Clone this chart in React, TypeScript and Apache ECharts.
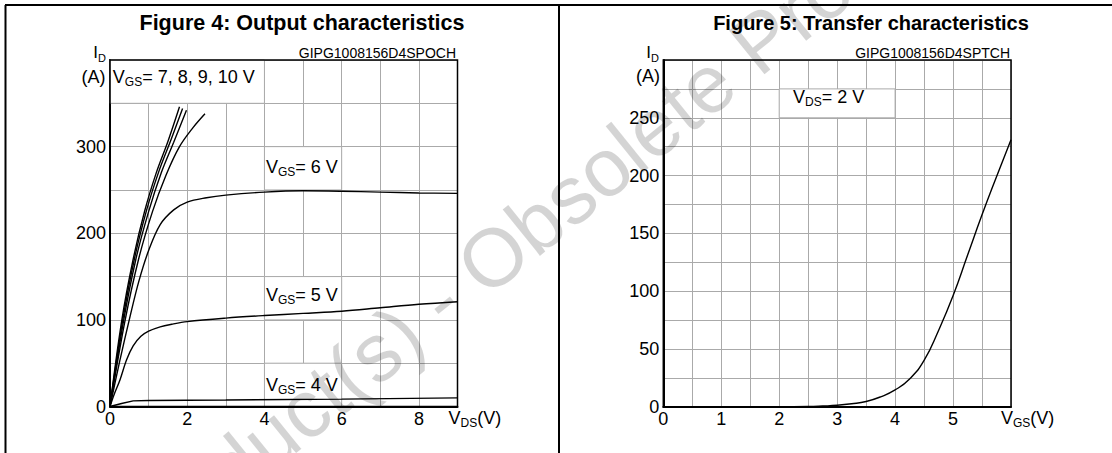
import React, { useEffect, useRef } from 'react';
import * as echarts from 'echarts';

const FONT = '"Liberation Sans", Arial, Helvetica, sans-serif';
const GRID = '#aaaaaa';

// ---- Figure 4: Output characteristics (I_D in A vs V_DS in V) ----
const vgs4: number[][] = [[0, 0], [0.3, 3.5], [0.6, 6.5], [1, 7], [3, 7.5], [6, 8.5], [9, 10]];
const vgs5: number[][] = [[0, 0], [0.1, 13], [0.26, 31], [0.43, 54], [0.6, 70], [0.8, 81], [1, 87], [1.3, 92], [1.6, 95], [2, 98], [3, 102], [4, 105], [5, 107.5], [6, 110], [7, 114], [8, 118], [9, 121]];
const vgs6: number[][] = [[0, 0], [0.25, 52], [0.52, 104], [0.75, 145], [1, 180], [1.3, 210], [1.65, 227], [2, 236], [2.5, 241], [3, 244], [4, 247.5], [5, 249], [6, 248.5], [7, 247.5], [8, 246.5], [9, 246]];
const vgs7: number[][] = [[0, 0], [0.38, 97], [0.74, 170], [1.1, 225], [1.45, 267], [1.8, 300], [2.15, 322], [2.46, 338]];
const vgs8: number[][] = [[0, 0], [0.34, 96], [0.67, 170], [1.0, 225], [1.33, 270], [1.65, 305], [1.98, 342]];
const vgs9: number[][] = [[0, 0], [0.32, 97], [0.63, 170], [0.95, 227], [1.27, 272], [1.58, 308], [1.88, 344]];
const vgs10: number[][] = [[0, 0], [0.3, 98], [0.6, 170], [0.9, 226], [1.2, 270], [1.5, 306], [1.8, 346]];
const fig4XTicks = [0, 2, 4, 6, 8];
const fig4YTicks = [0, 100, 200, 300];

// ---- Figure 5: Transfer characteristics (I_D in A vs V_GS in V, V_DS = 2 V) ----
const transferVgs = [0, 0.5, 1, 1.5, 2, 2.5, 2.75, 3, 3.25, 3.5, 3.75, 4, 4.25, 4.5, 4.75, 5, 5.25, 5.5, 5.75, 6];
const transferId = [0, 0, 0, 0, 0, 0.2, 0.6, 1.2, 2.5, 4.5, 8.5, 14.5, 24, 40, 66, 96, 131, 166, 199, 231];
const fig5XTicks = [0, 1, 2, 3, 4, 5];
const fig5YTicks = [0, 50, 100, 150, 200, 250];

// white label boxes (data coordinates)
const fig4LabelBoxes = [
  [[0, 350], [4, 400]],
  [[4, 250], [6, 300]],
  [[4, 100], [6, 150]],
  [[4, 0], [6, 50]],
];
const fig5LabelBoxes = [[[2, 250], [4, 275]]];

const rich = {
  m: { fontSize: 18, fontFamily: FONT, fill: '#000', lineHeight: 22 },
  s: { fontSize: 12, fontFamily: FONT, fill: '#000', lineHeight: 14, verticalAlign: 'bottom' },
  i: { fontSize: 17, fontFamily: FONT, fill: '#000', lineHeight: 22 },
  d: { fontSize: 11, fontFamily: FONT, fill: '#000', lineHeight: 11, verticalAlign: 'bottom' },
};

function txt(x: number, y: number, text: string, align = 'left', z = 10) {
  return {
    type: 'text', x, y, z, silent: true,
    style: { text, align, verticalAlign: 'middle', rich, fontFamily: FONT, fontSize: 18, fill: '#000' },
  };
}

function lineSeries(name: string, data: number[][], grid: number, smooth: boolean | number = 0.35) {
  return {
    name, type: 'line', xAxisIndex: grid, yAxisIndex: grid, data, smooth,
    symbol: 'none', z: 2, silent: true,
    lineStyle: { color: '#000', width: 1.4 },
  };
}

function boxSeries(grid: number, boxes: number[][][]) {
  return {
    type: 'line', xAxisIndex: grid, yAxisIndex: grid, data: [], z: 1, silent: true,
    markArea: {
      silent: true,
      itemStyle: { color: '#fff', borderColor: GRID, borderWidth: 1 },
      data: boxes.map((b) => [{ coord: b[0] }, { coord: b[1] }]),
    },
  };
}

function xAxis(grid: number, max: number, interval: number, ticks: number[]) {
  return {
    type: 'value', gridIndex: grid, min: 0, max, interval,
    axisLine: { show: true, onZero: false, lineStyle: { color: '#000', width: 2 } },
    axisTick: { show: false },
    splitLine: { show: true, lineStyle: { color: GRID, width: 1 } },
    axisLabel: {
      margin: 3, color: '#000', fontSize: 18, fontFamily: FONT,
      formatter: (v: number) => (ticks.includes(v) ? String(v) : ''),
    },
  };
}

function yAxis(grid: number, max: number, interval: number, ticks: number[]) {
  return {
    type: 'value', gridIndex: grid, min: 0, max, interval,
    axisLine: { show: true, onZero: false, lineStyle: { color: '#000', width: 2 } },
    axisTick: { show: false },
    splitLine: { show: true, lineStyle: { color: GRID, width: 1 } },
    axisLabel: {
      margin: 4, color: '#000', fontSize: 18, fontFamily: FONT,
      formatter: (v: number) => (ticks.includes(v) ? String(v) : ''),
    },
  };
}

export default function App() {
  const ref = useRef<HTMLDivElement>(null);
  useEffect(() => {
    document.body.style.margin = '0';
    if (!ref.current) return;
    const chart = echarts.init(ref.current, null, { renderer: 'svg' });
    const option: any = {
      animation: false,
      backgroundColor: '#fff',
      textStyle: { fontFamily: FONT },
      grid: [
        { left: 110, top: 60, width: 347.5, height: 346.5, show: true, borderColor: '#000', borderWidth: 1.5, backgroundColor: 'transparent', z: 3 },
        { left: 663.3, top: 60, width: 347.7, height: 346.7, show: true, borderColor: '#000', borderWidth: 1.5, backgroundColor: 'transparent', z: 3 },
      ],
      xAxis: [xAxis(0, 9, 1, fig4XTicks), xAxis(1, 6, 0.5, fig5XTicks)],
      yAxis: [yAxis(0, 400, 50, fig4YTicks), yAxis(1, 300, 25, fig5YTicks)],
      series: [
        boxSeries(0, fig4LabelBoxes),
        boxSeries(1, fig5LabelBoxes),
        lineSeries('VGS=4V', vgs4, 0, false),
        lineSeries('VGS=5V', vgs5, 0),
        lineSeries('VGS=6V', vgs6, 0),
        lineSeries('VGS=7V', vgs7, 0),
        lineSeries('VGS=8V', vgs8, 0),
        lineSeries('VGS=9V', vgs9, 0),
        lineSeries('VGS=10V', vgs10, 0),
        lineSeries('Transfer', transferVgs.map((v, i) => [v, transferId[i]]), 1, 0.5),
      ],
      graphic: {
        elements: [
          // frame
          { type: 'line', z: 10, shape: { x1: 5, y1: 5, x2: 1112, y2: 5 }, style: { stroke: '#000', lineWidth: 2 } },
          { type: 'line', z: 10, shape: { x1: 5.5, y1: 5, x2: 5.5, y2: 453 }, style: { stroke: '#000', lineWidth: 2 } },
          { type: 'line', z: 10, shape: { x1: 559, y1: 5, x2: 559, y2: 453 }, style: { stroke: '#000', lineWidth: 2 } },
          // titles
          { type: 'text', x: 302, y: 22.5, z: 10, style: { text: 'Figure 4: Output characteristics', align: 'center', verticalAlign: 'middle', fontSize: 21.5, fontWeight: 'bold', fontFamily: FONT, fill: '#000' } },
          { type: 'text', x: 871, y: 22.5, z: 10, style: { text: 'Figure 5: Transfer characteristics', align: 'center', verticalAlign: 'middle', fontSize: 20, fontWeight: 'bold', fontFamily: FONT, fill: '#000' } },
          { type: 'text', x: 456, y: 53, z: 10, style: { text: 'GIPG1008156D4SPOCH', align: 'right', verticalAlign: 'middle', fontSize: 14, fontFamily: FONT, fill: '#000' } },
          { type: 'text', x: 1010, y: 53, z: 10, style: { text: 'GIPG1008156D4SPTCH', align: 'right', verticalAlign: 'middle', fontSize: 14, fontFamily: FONT, fill: '#000' } },
          // axis names
          txt(106, 52.5, '{i|I}{d|D}', 'right'),
          txt(105.5, 76.5, '{m|(A)}', 'right'),
          txt(659, 52.5, '{i|I}{d|D}', 'right'),
          txt(660, 75.5, '{m|(A)}', 'right'),
          txt(448.6, 418.3, '{m|V}{s|DS}{m|(V)}'),
          txt(1001, 418.3, '{m|V}{s|GS}{m|(V)}'),
          // annotations
          txt(112.8, 76.5, '{m|V}{s|GS}{m|= 7, 8, 9, 10 V}'),
          txt(266, 166.7, '{m|V}{s|GS}{m|= 6 V}'),
          txt(266, 295, '{m|V}{s|GS}{m|= 5 V}'),
          txt(266, 384.7, '{m|V}{s|GS}{m|= 4 V}'),
          txt(793, 96.5, '{m|V}{s|DS}{m|= 2 V}'),
          // watermark
          { type: 'text', x: 440, y: 300, rotation: 0.68, z: 20, silent: true, style: { text: 'Obsolete Product(s) - Obsolete Product(s)', align: 'center', verticalAlign: 'middle', fontSize: 82, fontFamily: FONT, fill: 'rgba(0,0,0,0.17)' } },
        ],
      },
    };
    chart.setOption(option);
    return () => chart.dispose();
  }, []);
  return <div ref={ref} style={{ width: 1112, height: 453 }} />;
}
